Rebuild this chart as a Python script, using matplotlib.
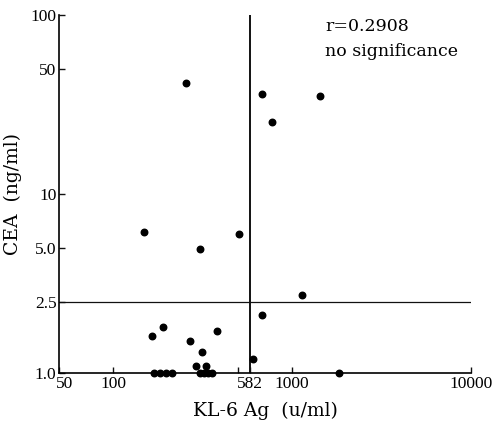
from __future__ import annotations

import matplotlib

matplotlib.use("Agg")

import matplotlib.pyplot as plt
import matplotlib.transforms as mtransforms

# KL-6 Ag (u/ml) vs CEA (ng/ml)
kl6_values = [
    254, 682, 769, 1425,
    148, 305, 505,
    1135, 682,
    164, 190, 268, 381, 312, 289, 332, 605,
    169, 182, 197, 213, 305, 321, 338, 356, 1834,
]
cea_values = [
    41.6, 36.1, 25.4, 35.3,
    6.13, 4.97, 5.97,
    2.73, 2.11,
    1.62, 1.82, 1.51, 1.72, 1.32, 1.10, 1.10, 1.20,
    1.0, 1.0, 1.0, 1.0, 1.0, 1.0, 1.0, 1.0, 1.0,
]

kl6_cutoff = 582
cea_cutoff = 2.5

x_ticks = [50, 100, 500, 582, 1000, 10000]
x_tick_labels = ["50", "100", "", "582", "1000", "10000"]
y_ticks = [1.0, 2.5, 5.0, 10, 50, 100]
y_tick_labels = ["1.0", "2.5", "5.0", "10", "50", "100"]

annotation_lines = ["r=0.2908", "no significance"]

WIDE_SERIF = ["DejaVu Serif"]


def main() -> int:
    plt.rcParams["font.family"] = ["Liberation Serif", "DejaVu Serif"]

    fig = plt.figure(figsize=(4.94, 4.29), dpi=100)
    ax = fig.add_axes([0.120, 0.130, 0.834, 0.835])

    ax.set_xscale("log")
    ax.set_yscale("log")
    ax.set_xlim(50, 10000)
    ax.set_ylim(1.0, 100)

    ax.axvline(kl6_cutoff, color="#111111", linewidth=1.4)
    ax.axhline(cea_cutoff, color="#111111", linewidth=0.9)

    ax.scatter(kl6_values, cea_values, s=22, color="black", zorder=3, clip_on=False)

    ax.spines["top"].set_visible(False)
    ax.spines["right"].set_visible(False)
    ax.spines["left"].set_linewidth(1.2)
    ax.spines["bottom"].set_linewidth(1.2)

    ax.set_xticks(x_ticks, x_tick_labels)
    ax.set_yticks(y_ticks, y_tick_labels)
    ax.minorticks_off()
    ax.tick_params(direction="in", length=4, width=1, labelsize=12.5, pad=2, color="#111111")

    # the "50" label sits a little to the right of the corner in the original
    shift = mtransforms.ScaledTranslation(5 / 100, 0, fig.dpi_scale_trans)
    first_label = ax.get_xticklabels()[0]
    first_label.set_transform(first_label.get_transform() + shift)

    ax.set_xlabel("KL-6 Ag  (u/ml)", fontsize=13.5, family=WIDE_SERIF, labelpad=7)
    ax.set_ylabel("CEA  (ng/ml)", fontsize=13.5, family=WIDE_SERIF, labelpad=6)

    ax.text(0.645, 0.968, annotation_lines[0], transform=ax.transAxes, fontsize=12.5,
            family=WIDE_SERIF, va="center", ha="left")
    ax.text(0.645, 0.897, annotation_lines[1], transform=ax.transAxes, fontsize=12.5,
            family=WIDE_SERIF, va="center", ha="left")

    fig.savefig("out.png", dpi=100)
    plt.close(fig)
    return 0


if __name__ == "__main__":
    raise SystemExit(main())
